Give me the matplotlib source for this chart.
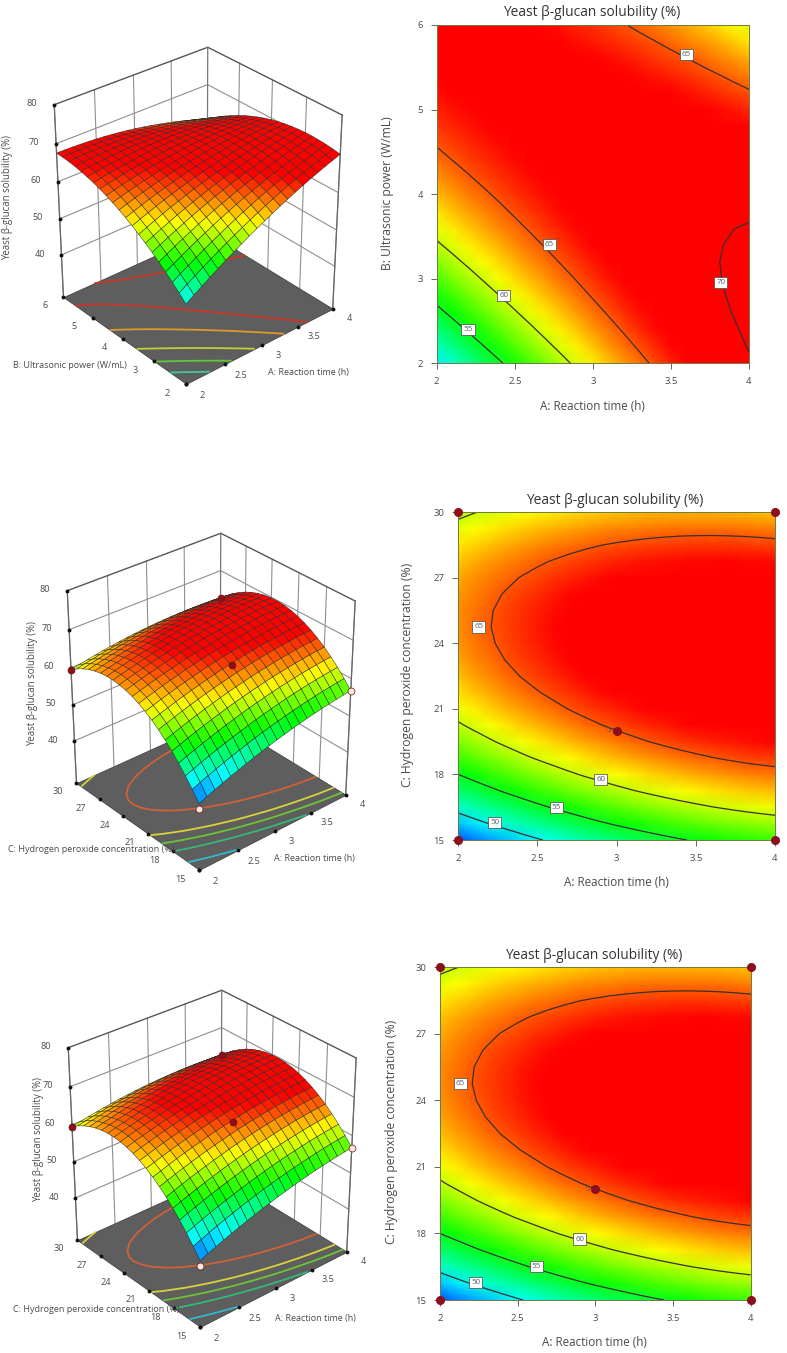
import numpy as np
import matplotlib
matplotlib.use('Agg')
import matplotlib.pyplot as plt
from matplotlib.colors import LinearSegmentedColormap, Normalize
from mpl_toolkits.mplot3d.art3d import Poly3DCollection

plt.rcParams['font.family'] = ['Open Sans', 'DejaVu Sans']

W, H = 787, 1353
TITLE = 'Yeast β-glucan solubility (%)'
TIME_LABEL = 'A: Reaction time (h)'
POWER_LABEL = 'B: Ultrasonic power (W/mL)'
H2O2_LABEL = 'C: Hydrogen peroxide concentration (%)'

time_ticks = [2, 2.5, 3, 3.5, 4]
time_ticklabels = ['2', '2.5', '3', '3.5', '4']
power_ticks = [2, 3, 4, 5, 6]
h2o2_ticks = [15, 18, 21, 24, 27, 30]
z_ticks = [40, 50, 60, 70, 80]
z_floor = 28

# response at every mesh node, rows = y axis low to high, columns = A 2 to 4
power_response = [
    [49.43, 50.80, 52.14, 53.44, 54.70, 55.93, 57.12, 58.27, 59.39, 60.47, 61.52, 62.53, 63.51, 64.45, 65.35, 66.22, 67.05, 67.84, 68.60, 69.32, 70.00],
    [51.16, 52.46, 53.72, 54.95, 56.14, 57.31, 58.43, 59.51, 60.56, 61.57, 62.56, 63.50, 64.40, 65.27, 66.10, 66.91, 67.67, 68.39, 69.08, 69.74, 70.36],
    [52.80, 54.03, 55.22, 56.39, 57.51, 58.60, 59.65, 60.67, 61.65, 62.59, 63.51, 64.38, 65.21, 66.02, 66.78, 67.51, 68.20, 68.86, 69.48, 70.06, 70.62],
    [54.35, 55.51, 56.64, 57.73, 58.79, 59.81, 60.79, 61.74, 62.65, 63.53, 64.37, 65.17, 65.94, 66.67, 67.37, 68.03, 68.65, 69.24, 69.80, 70.31, 70.79],
    [55.82, 56.91, 57.97, 58.99, 59.98, 60.93, 61.85, 62.73, 63.57, 64.37, 65.15, 65.88, 66.58, 67.24, 67.87, 68.46, 69.02, 69.53, 70.02, 70.47, 70.88],
    [57.20, 58.22, 59.21, 60.17, 61.08, 61.97, 62.81, 63.62, 64.40, 65.13, 65.84, 66.50, 67.13, 67.73, 68.28, 68.81, 69.29, 69.74, 70.16, 70.53, 70.88],
    [58.49, 59.45, 60.37, 61.25, 62.10, 62.92, 63.69, 64.43, 65.14, 65.81, 66.44, 67.04, 67.60, 68.12, 68.61, 69.07, 69.48, 69.86, 70.21, 70.52, 70.79],
    [59.70, 60.59, 61.44, 62.26, 63.03, 63.78, 64.49, 65.16, 65.80, 66.39, 66.96, 67.49, 67.98, 68.44, 68.85, 69.24, 69.59, 69.90, 70.16, 70.41, 70.62],
    [60.82, 61.64, 62.42, 63.17, 63.88, 64.56, 65.20, 65.80, 66.37, 66.90, 67.39, 67.85, 68.27, 68.66, 69.01, 69.33, 69.61, 69.85, 70.05, 70.23, 70.36],
    [61.86, 62.61, 63.32, 63.99, 64.64, 65.25, 65.82, 66.35, 66.85, 67.31, 67.74, 68.13, 68.48, 68.80, 69.08, 69.33, 69.54, 69.71, 69.85, 69.95, 70.02],
    [62.81, 63.49, 64.13, 64.74, 65.31, 65.86, 66.36, 66.82, 67.25, 67.64, 68.00, 68.32, 68.60, 68.85, 69.06, 69.25, 69.39, 69.49, 69.56, 69.59, 69.59],
    [63.67, 64.29, 64.86, 65.40, 65.90, 66.37, 66.81, 67.20, 67.56, 67.88, 68.17, 68.43, 68.64, 68.82, 68.96, 69.07, 69.15, 69.18, 69.18, 69.14, 69.07],
    [64.45, 65.00, 65.50, 65.97, 66.40, 66.81, 67.17, 67.49, 67.79, 68.04, 68.26, 68.45, 68.59, 68.70, 68.77, 68.82, 68.82, 68.78, 68.72, 68.61, 68.47],
    [65.14, 65.62, 66.05, 66.46, 66.82, 67.15, 67.45, 67.70, 67.93, 68.11, 68.26, 68.38, 68.45, 68.50, 68.50, 68.47, 68.41, 68.30, 68.17, 67.99, 67.78],
    [65.75, 66.15, 66.52, 66.85, 67.15, 67.41, 67.64, 67.82, 67.98, 68.09, 68.18, 68.22, 68.23, 68.20, 68.14, 68.04, 67.91, 67.73, 67.53, 67.29, 67.01],
    [66.27, 66.60, 66.90, 67.17, 67.39, 67.59, 67.74, 67.86, 67.95, 67.99, 68.01, 67.98, 67.92, 67.83, 67.69, 67.53, 67.32, 67.08, 66.80, 66.49, 66.15],
    [66.70, 66.97, 67.19, 67.39, 67.55, 67.68, 67.76, 67.81, 67.83, 67.80, 67.75, 67.66, 67.52, 67.36, 67.16, 66.93, 66.65, 66.34, 66.00, 65.61, 65.20],
    [67.05, 67.25, 67.40, 67.53, 67.62, 67.68, 67.70, 67.67, 67.62, 67.53, 67.41, 67.25, 67.04, 66.81, 66.54, 66.24, 65.90, 65.51, 65.10, 64.65, 64.17],
    [67.31, 67.44, 67.53, 67.59, 67.60, 67.59, 67.54, 67.45, 67.33, 67.17, 66.98, 66.75, 66.48, 66.18, 65.83, 65.46, 65.05, 64.60, 64.12, 63.60, 63.05],
    [67.48, 67.54, 67.56, 67.55, 67.50, 67.42, 67.30, 67.14, 66.95, 66.72, 66.46, 66.16, 65.82, 65.45, 65.04, 64.60, 64.12, 63.60, 63.05, 62.46, 61.84],
    [67.57, 67.56, 67.51, 67.43, 67.31, 67.17, 66.98, 66.75, 66.49, 66.19, 65.86, 65.49, 65.08, 64.64, 64.17, 63.66, 63.11, 62.52, 61.90, 61.24, 60.55],
]

h2o2_response = [
    [45.88, 46.72, 47.53, 48.31, 49.06, 49.77, 50.45, 51.11, 51.74, 52.33, 52.89, 53.42, 53.92, 54.39, 54.83, 55.23, 55.61, 55.95, 56.27, 56.55, 56.80],
    [48.46, 49.28, 50.07, 50.83, 51.56, 52.25, 52.91, 53.55, 54.16, 54.73, 55.27, 55.78, 56.26, 56.71, 57.13, 57.51, 57.87, 58.20, 58.50, 58.76, 58.99],
    [50.84, 51.64, 52.41, 53.15, 53.86, 54.53, 55.17, 55.79, 56.38, 56.94, 57.46, 57.95, 58.41, 58.84, 59.24, 59.60, 59.94, 60.24, 60.52, 60.76, 60.97],
    [53.02, 53.80, 54.55, 55.27, 55.96, 56.61, 57.24, 57.84, 58.41, 58.94, 59.44, 59.91, 60.35, 60.76, 61.14, 61.48, 61.80, 62.09, 62.35, 62.57, 62.76],
    [55.00, 55.76, 56.49, 57.19, 57.86, 58.50, 59.10, 59.68, 60.23, 60.74, 61.22, 61.67, 62.09, 62.49, 62.85, 63.17, 63.47, 63.73, 63.97, 64.17, 64.34],
    [56.78, 57.52, 58.23, 58.91, 59.57, 60.18, 60.76, 61.32, 61.85, 62.34, 62.80, 63.24, 63.64, 64.01, 64.35, 64.65, 64.93, 65.18, 65.40, 65.58, 65.73],
    [58.36, 59.08, 59.77, 60.44, 61.07, 61.66, 62.22, 62.76, 63.27, 63.75, 64.19, 64.60, 64.98, 65.33, 65.66, 65.94, 66.20, 66.42, 66.62, 66.78, 66.92],
    [59.74, 60.44, 61.11, 61.76, 62.37, 62.94, 63.48, 64.00, 64.50, 64.95, 65.37, 65.76, 66.13, 66.46, 66.76, 67.02, 67.26, 67.47, 67.65, 67.79, 67.90],
    [60.92, 61.60, 62.25, 62.88, 63.47, 64.02, 64.54, 65.05, 65.52, 65.95, 66.35, 66.73, 67.07, 67.38, 67.66, 67.91, 68.13, 68.31, 68.47, 68.60, 68.69],
    [61.90, 62.56, 63.20, 63.80, 64.37, 64.90, 65.41, 65.89, 66.34, 66.75, 67.14, 67.49, 67.81, 68.11, 68.37, 68.59, 68.79, 68.96, 69.10, 69.20, 69.27],
    [62.68, 63.32, 63.94, 64.52, 65.07, 65.58, 66.07, 66.53, 66.96, 67.36, 67.72, 68.05, 68.36, 68.63, 68.87, 69.07, 69.26, 69.40, 69.52, 69.61, 69.66],
    [63.26, 63.88, 64.48, 65.04, 65.57, 66.07, 66.53, 66.97, 67.39, 67.76, 68.10, 68.42, 68.70, 68.95, 69.18, 69.36, 69.52, 69.65, 69.75, 69.81, 69.85],
    [63.64, 64.24, 64.82, 65.36, 65.87, 66.35, 66.79, 67.22, 67.61, 67.96, 68.29, 68.58, 68.84, 69.08, 69.28, 69.44, 69.59, 69.69, 69.77, 69.82, 69.83],
    [63.82, 64.40, 64.96, 65.48, 65.98, 66.43, 66.85, 67.26, 67.63, 67.97, 68.27, 68.54, 68.79, 69.00, 69.18, 69.33, 69.45, 69.54, 69.60, 69.62, 69.62],
    [63.80, 64.36, 64.90, 65.40, 65.88, 66.31, 66.72, 67.10, 67.45, 67.77, 68.05, 68.31, 68.53, 68.72, 68.89, 69.01, 69.12, 69.18, 69.23, 69.23, 69.20],
    [63.58, 64.12, 64.64, 65.12, 65.58, 65.99, 66.38, 66.74, 67.08, 67.37, 67.63, 67.87, 68.07, 68.25, 68.39, 68.50, 68.58, 68.63, 68.65, 68.64, 68.59],
    [63.16, 63.68, 64.18, 64.64, 65.08, 65.47, 65.84, 66.18, 66.50, 66.77, 67.02, 67.23, 67.42, 67.57, 67.70, 67.78, 67.85, 67.87, 67.88, 67.84, 67.78],
    [62.54, 63.05, 63.52, 63.97, 64.38, 64.76, 65.10, 65.43, 65.72, 65.98, 66.20, 66.40, 66.56, 66.70, 66.80, 66.87, 66.91, 66.92, 66.90, 66.85, 66.76],
    [61.72, 62.21, 62.66, 63.09, 63.48, 63.84, 64.16, 64.47, 64.74, 64.98, 65.18, 65.36, 65.50, 65.62, 65.71, 65.75, 65.78, 65.76, 65.73, 65.65, 65.55],
    [60.70, 61.17, 61.60, 62.01, 62.38, 62.72, 63.02, 63.31, 63.57, 63.78, 63.97, 64.12, 64.25, 64.34, 64.41, 64.44, 64.44, 64.41, 64.35, 64.26, 64.13],
    [59.48, 59.93, 60.34, 60.73, 61.08, 61.40, 61.69, 61.95, 62.19, 62.38, 62.55, 62.69, 62.79, 62.87, 62.91, 62.92, 62.91, 62.85, 62.78, 62.66, 62.52],
]

# contour levels on the floor of the 3D plots and their colours
power_floor_levels = [53.5, 57, 60.5, 64.5, 67.3]
power_floor_colors = ['#3fc9a0', '#5fc83a', '#c4cf35', '#e09a2a', '#c8372a']
h2o2_floor_levels = [50, 55, 58, 60.5, 65]
h2o2_floor_colors = ['#35b8c8', '#35b878', '#6cc43a', '#d6d23a', '#d0603a']

# contour labels on the 2D plots: value, A, y
power_labels = [('55', 2.2, 2.4), ('60', 2.43, 2.8), ('65', 2.72, 3.4), ('65', 3.6, 5.65), ('70', 3.82, 2.95)]
h2o2_labels = [('50', 2.23, 15.8), ('55', 2.62, 16.5), ('60', 2.9, 17.75), ('65', 2.13, 24.75)]

# design points
corner_times = [2, 2, 4, 4]
corner_h2o2 = [15, 30, 15, 30]
center_time = 3
center_h2o2 = 20
corner_response_dark = [(2, 30, 59.5), (4, 30, 62.5), (3, 20, 65.5)]
corner_response_light = [(2, 15, 44.5), (4, 15, 56.8)]

cmap = LinearSegmentedColormap.from_list('rsm', ['#0000ff', '#00ffff', '#00ff00', '#ffff00', '#ff0000'])
norm = Normalize(44, 67)
TEXT = '#4a4a4a'
DARK_RED = '#8c0f1e'


def surface_panel(fig, center, size, elev, azim, focal, aspect, zoom, y_vals, y_ticks, resp, levels, colors, markers):
    cx, cy = center
    ax = fig.add_axes([(cx - size / 2) / W, 1 - (cy + size / 2) / H, size / W, size / H],
                      projection='3d', computed_zorder=False)
    ax.set_axis_off()
    ax.patch.set_alpha(0)
    ax.view_init(elev=elev, azim=azim)
    ax.set_proj_type('persp', focal_length=focal)
    ax.set_box_aspect(aspect, zoom=zoom)
    x0, x1 = time_ticks[0], time_ticks[-1]
    y0, y1 = y_ticks[0], y_ticks[-1]
    z0, z1 = z_floor, z_ticks[-1]
    ax.set_xlim(x0, x1)
    ax.set_ylim(y0, y1)
    ax.set_zlim(z0, z1)
    rx, ry = x1 - x0, y1 - y0

    # back walls
    for t in time_ticks[:-1]:
        ax.plot([t, t], [y1, y1], [z0, z1], color='#8f8f8f', lw=0.8, zorder=1)
    for t in y_ticks[:-1]:
        ax.plot([x1, x1], [t, t], [z0, z1], color='#8f8f8f', lw=0.8, zorder=1)
    for z in z_ticks[:-1]:
        ax.plot([x0, x1, x1], [y1, y1, y0], [z, z, z], color='#8f8f8f', lw=0.8, zorder=1)
    ax.plot([x0, x1, x1], [y1, y1, y0], [z1, z1, z1], color='#555555', lw=1.0, zorder=1)
    ax.plot([x0, x0], [y1, y1], [z0, z1], color='#666666', lw=0.9, zorder=1)
    ax.plot([x1, x1], [y0, y0], [z0, z1], color='#666666', lw=0.9, zorder=1)
    ax.plot([x1, x1], [y1, y1], [z0, z1], color='#777777', lw=0.9, zorder=1)

    # floor
    floor = Poly3DCollection([[(x0, y0, z0), (x1, y0, z0), (x1, y1, z0), (x0, y1, z0)]],
                             facecolor='#5e5e5e', edgecolor='#444444', linewidths=0.6, zorder=2)
    ax.add_collection3d(floor, autolim=False)

    X, Y = np.meshgrid(np.linspace(x0, x1, 21), y_vals)
    Z = np.array(resp)
    ax.contour(X, Y, Z, levels=levels, colors=colors, linewidths=1.3, zdir='z', offset=z0, zorder=3)

    # ticks on floor edges and the z axis
    ax.plot(time_ticks, [y0] * len(time_ticks), [z0] * len(time_ticks), ls='', marker='o', ms=1.8, color='#111111', zorder=4)
    ax.plot([x0] * len(y_ticks), y_ticks, [z0] * len(y_ticks), ls='', marker='o', ms=1.8, color='#111111', zorder=4)
    ax.plot([x0] * len(z_ticks), [y1] * len(z_ticks), z_ticks, ls='', marker='o', ms=1.8, color='#111111', zorder=4)
    for t, lab in zip(time_ticks, time_ticklabels):
        ax.text(t, y0 - 0.12 * ry, z0, lab, ha='center', va='center', fontsize=6.6, color=TEXT)
    for t in y_ticks:
        ax.text(x0 - 0.12 * rx, t, z0, str(t), ha='center', va='center', fontsize=6.6, color=TEXT)
    for z in z_ticks:
        ax.text(x0 - 0.08 * rx, y1 + 0.08 * ry, z, str(z), ha='center', va='center', fontsize=6.6, color=TEXT)

    ax.plot_surface(X, Y, Z, cmap=cmap, norm=norm, rstride=1, cstride=1, shade=False,
                    edgecolor='#2a2a2a', linewidth=0.35, antialiased=True, zorder=5)
    for mx, my, mz, face in markers:
        ax.plot([mx], [my], [mz], ls='', marker='o', ms=5, mfc=face, mec='#6a1010', mew=0.5, zorder=6)
    return ax


def contour_panel(fig, box, y_vals, y_ticks, resp, levels, labels, ylabel, xlab_pos, ylab_pos, title_pos, markers):
    l, t, r, b = box
    ax = fig.add_axes([l / W, 1 - b / H, (r - l) / W, (b - t) / H])
    X, Y = np.meshgrid(np.linspace(time_ticks[0], time_ticks[-1], 21), y_vals)
    Z = np.array(resp)
    ax.pcolormesh(X, Y, Z, shading='gouraud', cmap=cmap, norm=norm, rasterized=True)
    ax.contour(X, Y, Z, levels=levels, colors='#3a3030', linewidths=0.9)
    for lab, x, y in labels:
        ax.text(x, y, lab, fontsize=5.8, color='#556070', ha='center', va='center',
                bbox=dict(boxstyle='square,pad=0.25', fc='white', ec='#444444', lw=0.5))
    ax.set_xlim(time_ticks[0], time_ticks[-1])
    ax.set_ylim(y_ticks[0], y_ticks[-1])
    ax.set_xticks(time_ticks)
    ax.set_xticklabels(time_ticklabels)
    ax.set_yticks(y_ticks)
    ax.tick_params(labelsize=6.8, colors=TEXT, length=4, width=0.7, pad=6, color='#666666')
    for s in ax.spines.values():
        s.set_color('#6e7a40')
        s.set_linewidth(0.7)
    if markers:
        ax.plot(corner_times, corner_h2o2, ls='', marker='o', ms=5.5, color=DARK_RED, clip_on=False, zorder=6)
        ax.plot([center_time], [center_h2o2], ls='', marker='o', ms=5.5, color=DARK_RED, zorder=6)
        ax.text(center_time - 0.05, center_h2o2, '5', fontsize=5.5, color='#555555', ha='center', va='center')
    fig.text(title_pos[0] / W, 1 - title_pos[1] / H, TITLE, fontsize=9.9, color='#333333', ha='center', va='center')
    fig.text(xlab_pos[0] / W, 1 - xlab_pos[1] / H, TIME_LABEL, fontsize=8.4, color=TEXT, ha='center', va='center')
    fig.text(ylab_pos[0] / W, 1 - ylab_pos[1] / H, ylabel, fontsize=8.7, color=TEXT, ha='center', va='center', rotation=90)


def label3d(fig, pos, text, rotation=0, fs=6.5):
    fig.text(pos[0] / W, 1 - pos[1] / H, text, fontsize=fs, color=TEXT, ha='center', va='center', rotation=rotation)


fig = plt.figure(figsize=(W / 100, H / 100), dpi=100, facecolor='white')

power_vals = np.linspace(2, 6, 21)
h2o2_vals = np.linspace(15, 30, 21)
markers_h2o2 = [(m[0], m[1], m[2], DARK_RED) for m in corner_response_dark] + \
               [(m[0], m[1], m[2], '#fbe6e0') for m in corner_response_light]

view = dict(elev=31, azim=-130.6, focal=0.8, aspect=(1, 1, 1.14), zoom=0.87)
surface_panel(fig, (192, 215), 400, y_vals=power_vals, y_ticks=power_ticks, resp=power_response,
              levels=power_floor_levels, colors=power_floor_colors, markers=[], **view)
surface_panel(fig, (205, 701), 400, y_vals=h2o2_vals, y_ticks=h2o2_ticks, resp=h2o2_response,
              levels=h2o2_floor_levels, colors=h2o2_floor_colors, markers=markers_h2o2, **view)
surface_panel(fig, (206, 1158), 400, y_vals=h2o2_vals, y_ticks=h2o2_ticks, resp=h2o2_response,
              levels=h2o2_floor_levels, colors=h2o2_floor_colors, markers=markers_h2o2, **view)

label3d(fig, (308, 373), TIME_LABEL)
label3d(fig, (70, 365), POWER_LABEL)
label3d(fig, (8, 197), TITLE, rotation=90, fs=6.9)
label3d(fig, (314, 858), TIME_LABEL)
label3d(fig, (91, 849), H2O2_LABEL)
label3d(fig, (33, 683), TITLE, rotation=90, fs=6.9)
label3d(fig, (315, 1318), TIME_LABEL)
label3d(fig, (96, 1309), H2O2_LABEL)
label3d(fig, (39, 1140), TITLE, rotation=90, fs=6.9)

contour_panel(fig, (436.7, 25, 749, 363.3), power_vals, power_ticks, power_response, [55, 60, 65, 70.25],
              power_labels, 'B: Ultrasonic power (W/mL)', (592, 407), (387, 193), (592, 13), False)
contour_panel(fig, (458.3, 512.3, 775, 840), h2o2_vals, h2o2_ticks, h2o2_response, [50, 55, 60, 65],
              h2o2_labels, H2O2_LABEL, (616, 882), (408, 675), (615, 500.7), True)
contour_panel(fig, (440, 967.3, 750.7, 1300), h2o2_vals, h2o2_ticks, h2o2_response, [50, 55, 60, 65],
              h2o2_labels, H2O2_LABEL, (594, 1343), (391, 1132), (594, 955.7), True)

fig.savefig('out.png', dpi=100)
